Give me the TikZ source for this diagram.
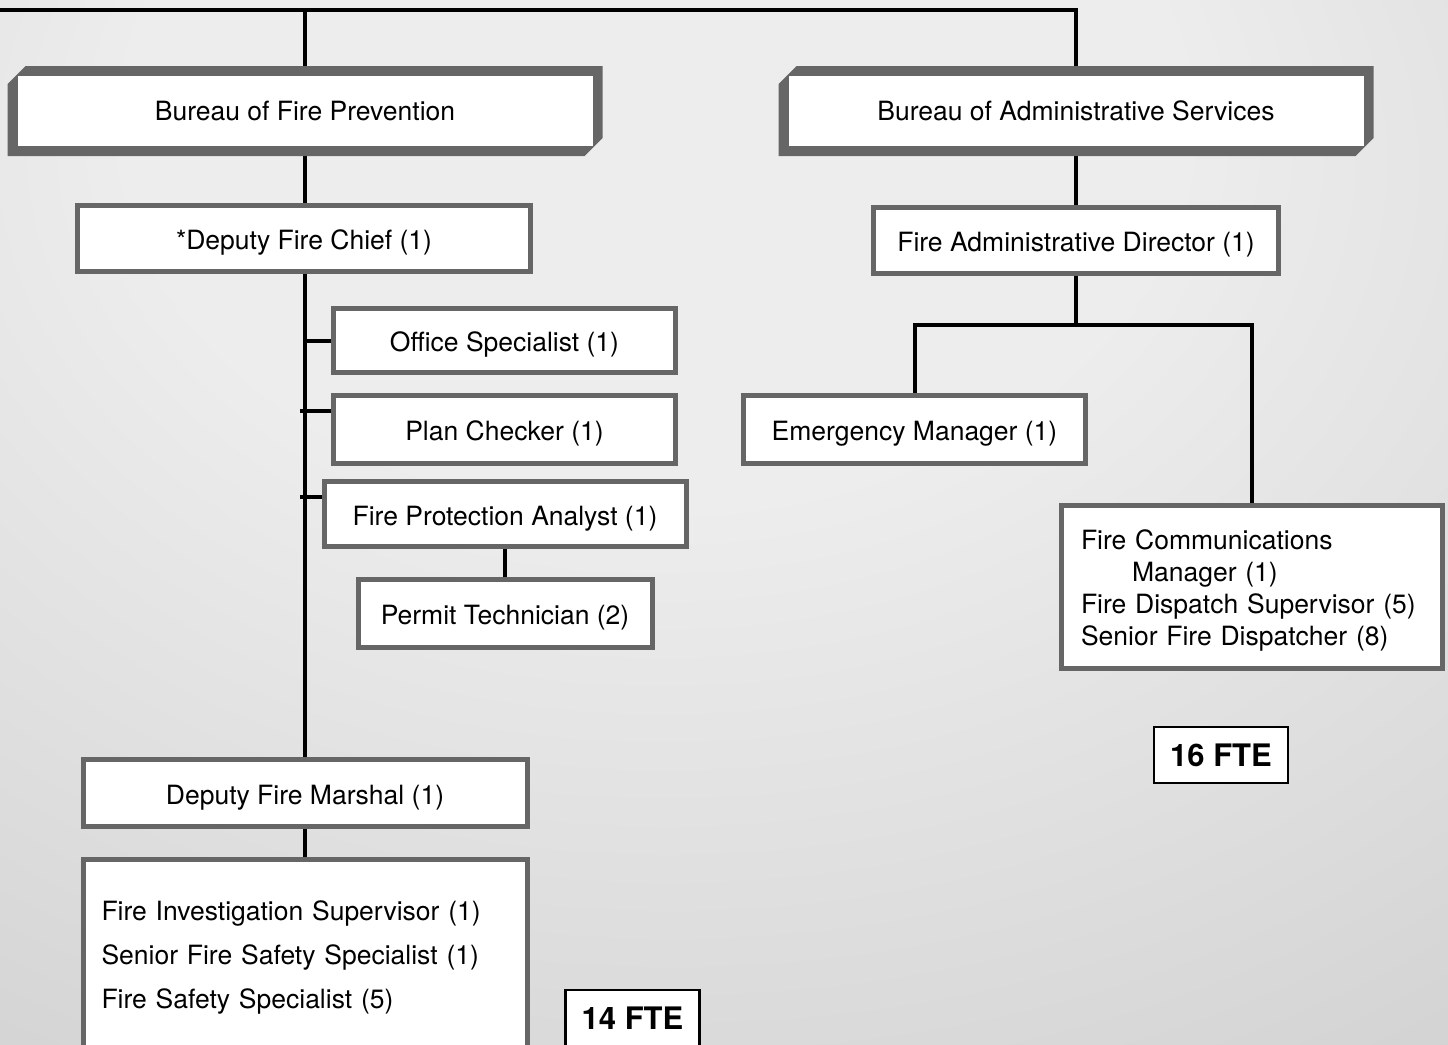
\documentclass[tikz,border=0pt]{standalone}
\usepackage{fontspec}
\setmainfont{TeX Gyre Heros}
\usepackage{xcolor}
\usepackage{tikz}
\usetikzlibrary{positioning}
\usetikzlibrary{shapes.misc}
\usetikzlibrary{backgrounds}
\usetikzlibrary{calc}
\definecolor{framegray}{gray}{0.40}
\definecolor{bglight}{gray}{0.93}
\definecolor{bgdark}{gray}{0.67}
\pgfdeclareradialshading{backdrop}{\pgfpoint{-3bp}{24bp}}{color(0bp)=(bglight); color(18bp)=(bglight); color(88bp)=(bgdark)}
\tikzstyle{bureau}=[chamfered rectangle, chamfered rectangle corners={north west,south east}, chamfered rectangle sep=9pt, fill=framegray, inner sep=0pt, minimum width=595pt, minimum height=90pt, font=\fontsize{26.5}{32}\selectfont, path picture={\fill[white] ([xshift=10pt,yshift=-10pt]path picture bounding box.north west) rectangle ([xshift=-10pt,yshift=10pt]path picture bounding box.south east);}]
\tikzstyle{post}=[rectangle, draw=framegray, line width=5pt, fill=white, inner sep=0pt, font=\fontsize{26.5}{32}\selectfont]
\tikzstyle{fte}=[rectangle, draw=black, line width=2.5pt, fill=white, inner sep=0pt, minimum width=134pt, minimum height=56pt, font=\bfseries\fontsize{31}{36}\selectfont]
\tikzstyle{link}=[draw, line width=4pt]
\tikzset{job/.style={post, text height=22pt, text depth=0pt}}
\tikzset{lst/.style={post, align=left, inner xsep=18.5pt}}

\begin{document}
\begin{tikzpicture}[x=1pt, y=-1pt]

 \useasboundingbox (0,0) rectangle (1448,1044);
 \clip (0,0) rectangle (1448,1044);

 %Bureaus
 \foreach \x/\y/\name/\label in {305/111/bfp/Bureau of Fire Prevention, 1076/111/bas/Bureau of Administrative Services}
   \node[bureau] (\name) at (\x, \y) {\label};

 %Fire Prevention
 \foreach \x/\y/\w/\h/\name/\label in {304/238/453/66/dfc/*Deputy Fire Chief (1),
     504.5/340.5/342/64/os/Office Specialist (1), 504.5/429.5/342/68/pc/Plan Checker (1),
     505/514/362/65/fpa/Fire Protection Analyst (1), 505/613.5/294/68/pt/Permit Technician (2),
     305/793/444/67/dfm/Deputy Fire Marshal (1)}
   \node[job, minimum width=\w*1pt, minimum height=\h*1pt] (\name) at (\x, \y) {\label};

 \node[lst, text width=407pt, minimum height=191pt, font=\fontsize{26.5}{44}\selectfont] (fis) at (305, 955)
   {\rule{0pt}{25pt}Fire Investigation Supervisor (1)\\Senior Fire Safety Specialist (1)\\Fire Safety Specialist (5)};

 %Administrative Services
 \foreach \x/\y/\w/\h/\name/\label in {1076/240.5/405/66/fad/Fire Administrative Director (1),
     914.5/429.5/342/68/em/Emergency Manager (1)}
   \node[job, minimum width=\w*1pt, minimum height=\h*1pt] (\name) at (\x, \y) {\label};

 \node[lst, text width=342pt, inner xsep=19.5pt, minimum height=163pt] (fcm) at (1252, 587)
   {\rule{0pt}{27pt}Fire Communications\\\hspace*{51pt}Manager (1)\\Fire Dispatch Supervisor (5)\\Senior Fire Dispatcher (8)};

 %FTE
 \node[fte] (fte16) at (1221, 755) {16 FTE};
 \node[fte] (fte14) at (632.5, 1018) {14 FTE};

 \begin{scope}[on background layer]
 \shade[shading=backdrop] (0,0) rectangle (1448,1044);

 \coordinate (tl) at (0,10);
 \coordinate (tr) at (1076,10);
 \coordinate (split) at (1076,325);

 \draw[link] (tl) -- (tr) -- (bas.north);
 \draw[link] (tl -| bfp.north) -- (bfp.north);

 \foreach \source/\dest in {bfp/dfm, dfm/fis, fpa/pt, bas/fad, fad/split}
   \path[link] (\source) -- (\dest);

 \foreach \dest/\tx/\ty in {os/305/341, pc/300/411, fpa/300/497}
 {
   \coordinate (t\dest) at (\tx, \ty);
   \path[link] (t\dest) -- (t\dest -| \dest.west);
 }

 \draw[link] (em.north) -- (em.north |- split) -- (fcm.north |- split) -- (fcm.north);
 \end{scope}

\end{tikzpicture}
\end{document}
